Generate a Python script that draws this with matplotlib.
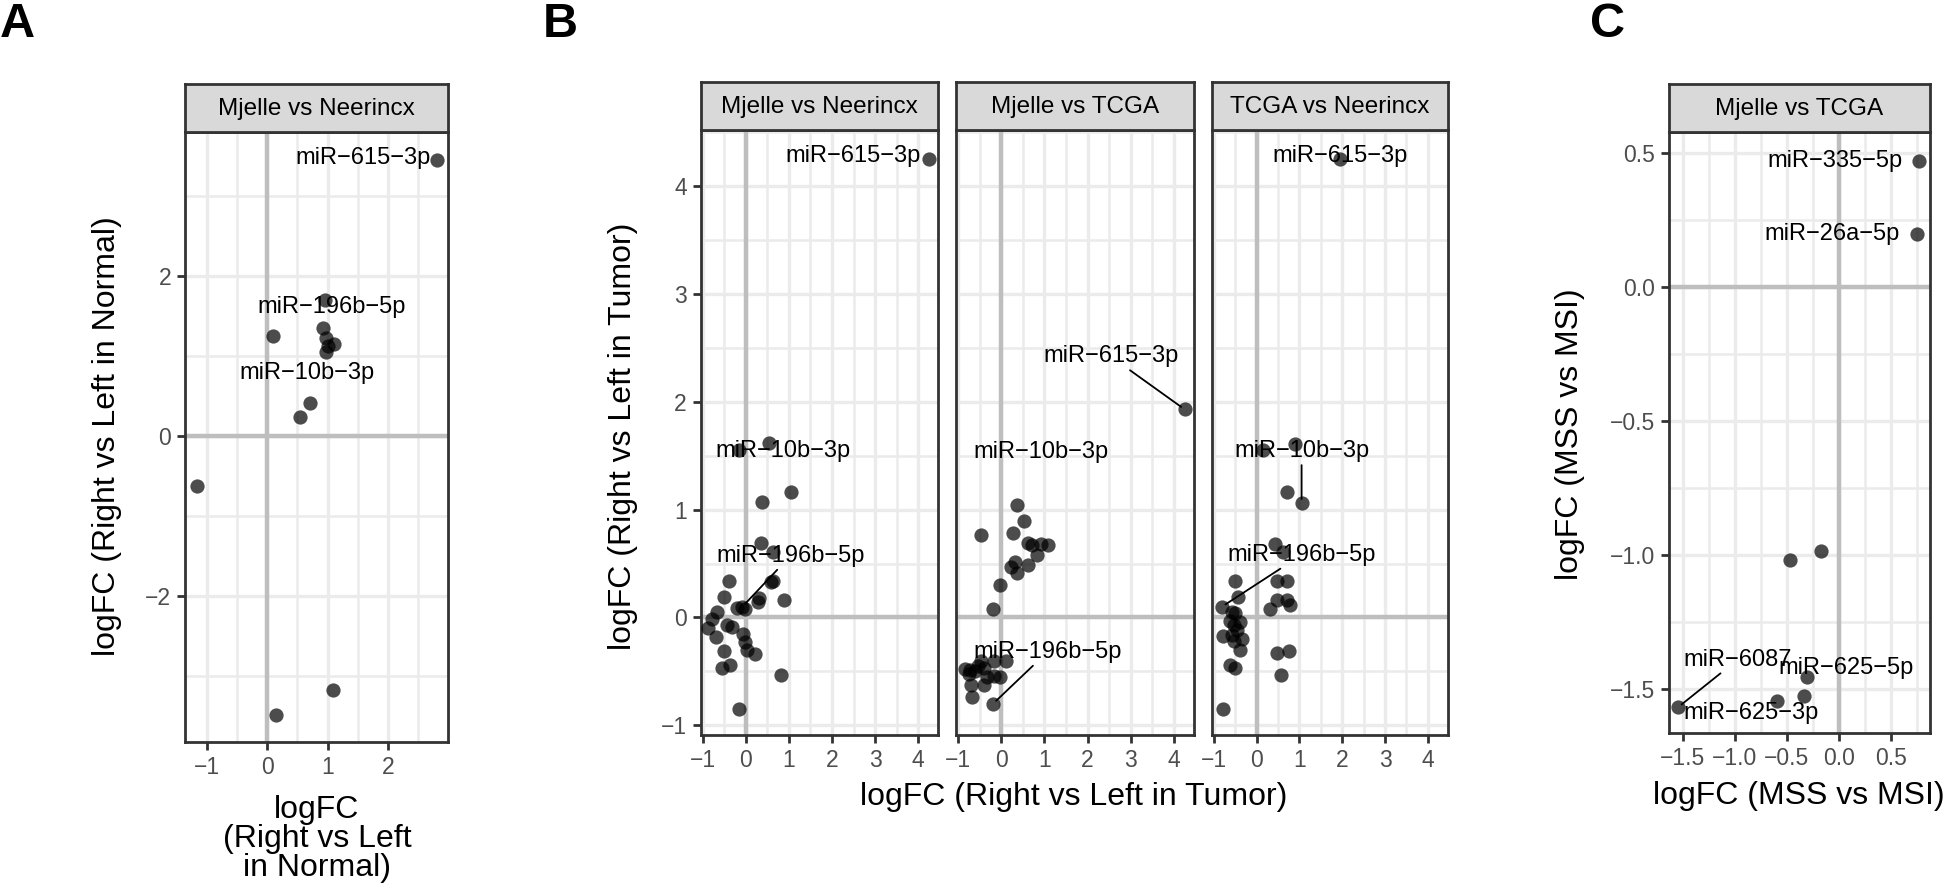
import matplotlib.pyplot as plt
import numpy as np

plt.rcParams['font.family'] = ['Liberation Sans', 'DejaVu Sans']

# ---- data ----
# A : Mjelle vs Neerincx, Right vs Left in Normal
a_x = [2.80, 0.95, 0.10, 0.93, 0.97, 1.11, 1.00, 0.98, 0.71, 0.54, -1.16, 0.15, 1.08]
a_y = [3.45, 1.70, 1.25, 1.35, 1.22, 1.15, 1.12, 1.05, 0.41, 0.24, -0.63, -3.49, -3.17]

# B : Right vs Left in Tumor, three comparisons
b1_x = [4.25, 0.53, -0.17, 1.05, 0.37, 0.36, 0.64, 0.58, 0.62, -0.40, -0.52, -0.21, -0.02,
        -0.08, 0.29, 0.30, 0.89, -0.67, -0.79, -0.87, -0.70, -0.44, -0.33, -0.06, -0.02,
        0.02, 0.22, -0.50, -0.36, -0.56, 0.81, -0.16]
b1_y = [4.25, 1.62, 1.55, 1.16, 1.07, 0.69, 0.61, 0.33, 0.34, 0.34, 0.19, 0.09, 0.08,
        0.10, 0.14, 0.18, 0.16, 0.05, -0.01, -0.10, -0.18, -0.07, -0.09, -0.15, -0.23,
        -0.30, -0.34, -0.31, -0.44, -0.47, -0.53, -0.85]

b2_x = [4.25, 0.37, -0.48, 0.53, 0.28, 0.62, 0.72, 0.91, 1.08, 0.82, 0.62, 0.31, 0.23,
        0.37, -0.02, -0.19, -0.83, -0.72, -0.48, -0.41, -0.75, -0.71, -0.40, -0.33, -0.67,
        -0.17, -0.02, 0.10, -0.17, -0.19, -0.55, -0.60]
b2_y = [1.93, 1.04, 0.76, 0.89, 0.78, 0.69, 0.67, 0.68, 0.67, 0.58, 0.49, 0.51, 0.47,
        0.41, 0.30, 0.08, -0.48, -0.49, -0.40, -0.47, -0.52, -0.63, -0.63, -0.55, -0.74,
        -0.54, -0.55, -0.40, -0.40, -0.80, -0.45, -0.50]

b3_x = [1.95, 0.89, 0.15, 0.70, 1.05, 0.43, 0.62, -0.50, 0.47, 0.70, -0.43, 0.47, 0.70,
        0.79, 0.31, -0.81, -0.58, -0.50, -0.62, -0.39, -0.54, -0.47, -0.78, -0.58, -0.35,
        -0.54, -0.39, 0.48, 0.76, -0.62, -0.50, 0.58, -0.78]
b3_y = [4.25, 1.61, 1.55, 1.16, 1.06, 0.68, 0.61, 0.34, 0.34, 0.34, 0.19, 0.16, 0.16,
        0.12, 0.08, 0.10, 0.05, 0.04, -0.03, -0.04, -0.07, -0.12, -0.17, -0.16, -0.20,
        -0.22, -0.30, -0.33, -0.31, -0.44, -0.47, -0.53, -0.85]

# C : Mjelle vs TCGA, MSS vs MSI
c_x = [0.766, 0.75, -0.17, -0.47, -0.31, -0.33, -0.59, -1.54]
c_y = [0.47, 0.197, -0.985, -1.02, -1.455, -1.527, -1.546, -1.567]

# labels: (text, label x, label y, point x, point y) -- point None = no segment
a_lab = [("miR−615−3p", 1.58, 3.475, None, None),
         ("miR−196b−5p", 1.07, 1.61, None, None),
         ("miR−10b−3p", 0.66, 0.79, None, None)]
b1_lab = [("miR−615−3p", 2.50, 4.28, None, None),
          ("miR−10b−3p", 0.87, 1.54, None, None),
          ("miR−196b−5p", 1.03, 0.57, -0.08, 0.10)]
b2_lab = [("miR−615−3p", 2.54, 2.42, 4.25, 1.93),
          ("miR−10b−3p", 0.92, 1.53, None, None),
          ("miR−196b−5p", 1.07, -0.32, -0.19, -0.80)]
b3_lab = [("miR−615−3p", 1.94, 4.28, None, None),
          ("miR−10b−3p", 1.05, 1.54, 1.05, 1.06),
          ("miR−196b−5p", 1.05, 0.58, -0.81, 0.10)]
c_lab = [("miR−335−5p", -0.04, 0.47, None, None),
         ("miR−26a−5p", -0.065, 0.197, None, None),
         ("miR−6087", -0.97, -1.39, -1.54, -1.567),
         ("miR−625−5p", 0.07, -1.42, None, None),
         ("miR−625−3p", -0.84, -1.59, None, None)]

W, H = 1945, 891
fig = plt.figure(figsize=(W / 100, H / 100), dpi=100)
dark = '#333333'


def panel(x0, x1, y0, y1, title):
    ax = fig.add_axes([x0 / W, 1 - y1 / H, (x1 - x0) / W, (y1 - y0) / H])
    st = fig.add_axes([x0 / W, 1 - y0 / H, (x1 - x0) / W, 48 / H])
    st.set_facecolor('#D9D9D9')
    st.set_xticks([])
    st.set_yticks([])
    for s in st.spines.values():
        s.set_color(dark)
        s.set_linewidth(2)
    st.text(0.5, 0.48, title, ha='center', va='center', fontsize=17.5,
            transform=st.transAxes)
    return ax


def style(ax, xlim, ylim, xmaj, ymaj, xmin, ymin, ylabels=True):
    ax.set_xlim(xlim)
    ax.set_ylim(ylim)
    ax.set_xticks(xmaj)
    ax.set_yticks(ymaj)
    ax.set_xticks(xmin, minor=True)
    ax.set_yticks(ymin, minor=True)
    ax.grid(which='major', color='#EBEBEB', lw=2.4)
    ax.grid(which='minor', color='#EBEBEB', lw=1.8)
    ax.set_axisbelow(True)
    ax.tick_params(which='minor', length=0)
    ax.tick_params(which='major', length=6, width=2, color=dark,
                   labelsize=16.5, labelcolor='#4D4D4D', pad=4)
    if not ylabels:
        ax.tick_params(axis='y', length=0, labelleft=False)
    for s in ax.spines.values():
        s.set_color(dark)
        s.set_linewidth(2)
    ax.axhline(0, color='#BEBEBE', lw=3.2, zorder=1.5)
    ax.axvline(0, color='#BEBEBE', lw=3.2, zorder=1.5)


def draw(ax, xs, ys, labels):
    ax.scatter(xs, ys, s=105, color='black', alpha=0.7, lw=0, zorder=3)
    for txt, lx, ly, px, py in labels:
        if px is None:
            ax.text(lx, ly, txt, ha='center', va='center', fontsize=17, zorder=4)
        else:
            ax.annotate(txt, xy=(px, py), xytext=(lx, ly), ha='center', va='center',
                        fontsize=17, zorder=4,
                        arrowprops=dict(arrowstyle='-', color='black', lw=1.3,
                                        shrinkA=0, shrinkB=3))


# A
axA = panel(185, 448, 83 + 49, 742, "Mjelle vs Neerincx")
style(axA, (-1.36, 2.99), (-3.825, 3.8), [-1, 0, 1, 2], [-2, 0, 2],
      [-0.5, 0.5, 1.5, 2.5], [-3, -1, 1, 3])
draw(axA, a_x, a_y, a_lab)
fig.text(107 / W, 1 - 436 / H, "logFC (Right vs Left in Normal)", rotation=90,
         ha='center', va='center', fontsize=23)
fig.text(317 / W, 1 - 839 / H, "logFC\n(Right vs Left\nin Normal)", ha='center',
         va='center', fontsize=23, linespacing=0.95)

# B
b_edges = [(700.7, 938.3), (956, 1194), (1211.7, 1448)]
b_titles = ["Mjelle vs Neerincx", "Mjelle vs TCGA", "TCGA vs Neerincx"]
b_data = [(b1_x, b1_y, b1_lab), (b2_x, b2_y, b2_lab), (b3_x, b3_y, b3_lab)]
for i, ((x0, x1), t, (bx, by, bl)) in enumerate(zip(b_edges, b_titles, b_data)):
    ax = panel(x0, x1, 130, 735, t)
    style(ax, (-1.05, 4.47), (-1.09, 4.52), [-1, 0, 1, 2, 3, 4], [-1, 0, 1, 2, 3, 4],
          [-0.5, 0.5, 1.5, 2.5, 3.5], [-0.5, 0.5, 1.5, 2.5, 3.5, 4.5], ylabels=(i == 0))
    draw(ax, bx, by, bl)
fig.text(623 / W, 1 - 436 / H, "logFC (Right vs Left in Tumor)", rotation=90,
         ha='center', va='center', fontsize=23)
fig.text(1074 / W, 1 - 797 / H, "logFC (Right vs Left in Tumor)", ha='center',
         va='center', fontsize=23)

# C
axC = panel(1669, 1930, 132, 733, "Mjelle vs TCGA")
style(axC, (-1.63, 0.875), (-1.664, 0.578), [-1.5, -1.0, -0.5, 0.0, 0.5],
      [-1.5, -1.0, -0.5, 0.0, 0.5], [-1.25, -0.75, -0.25, 0.25, 0.75],
      [-1.25, -0.75, -0.25, 0.25])
draw(axC, c_x, c_y, c_lab)
fig.text(1570 / W, 1 - 434 / H, "logFC (MSS vs MSI)", rotation=90,
         ha='center', va='center', fontsize=23)
fig.text(1799 / W, 1 - 796 / H, "logFC (MSS vs MSI)", ha='center',
         va='center', fontsize=23)

# panel letters
for letter, lx in [("A", 0), ("B", 543), ("C", 1590)]:
    fig.text(lx / W, 1 - 2 / H, letter, ha='left', va='top', fontsize=35,
             fontweight='bold')

fig.savefig("out.png", dpi=100, facecolor='white')
